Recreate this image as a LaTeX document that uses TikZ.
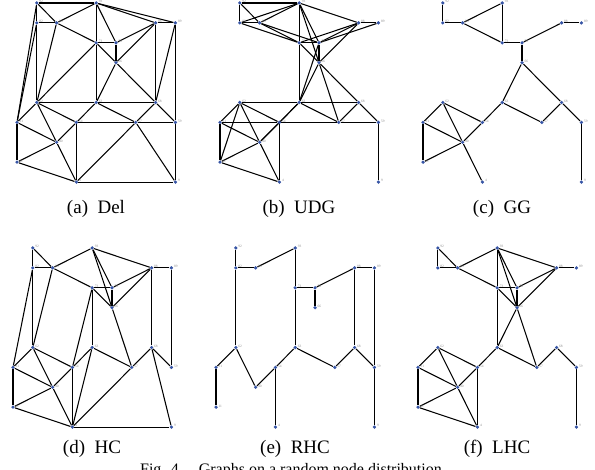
\documentclass[tikz,border=0pt]{standalone}
\usepackage{fontspec}
\setmainfont{Liberation Serif}
\usetikzlibrary{backgrounds}
\definecolor{nodeblue}{RGB}{55,85,165}

% sensor positions on a grid: id/column/row
\newcommand{\sensors}[3]{%
  \foreach \id/\c/\r in {92/1/0, 93/4/0, 82/1/1, 83/2/1, 73/4/2, 76/5/2, 66/5/3,
      88/7/1, 89/8/1, 62/1/5, 63/4/5, 68/7/5, 31/0/6, 54/3/6, 57/6/6, 59/8/6,
      40/2/7, 11/0/8, 4/3/9, 9/8/9} {
    \node[dot, label={[lbl]east:\id}] (#1\id) at ({#2+19.8*\c}, {#3+19.9*\r}) {};
  }}
\newcommand{\links}[2]{%
  \begin{scope}[on background layer]
    \foreach \u/\v in {#2} \draw[edge] (#1\u) -- (#1\v);
  \end{scope}}

\begin{document}
\begin{tikzpicture}[x=1pt, y=-1pt,
    dot/.style={circle, fill=nodeblue, inner sep=0pt, minimum size=3.6pt},
    lbl/.style={font=\fontsize{3.5}{4}\selectfont, text=black!45, inner sep=0.4pt, yshift=1.3pt},
    edge/.style={draw=black, line width=1.05pt},
    subcap/.style={font=\fontsize{19}{22}\selectfont}
]
    \useasboundingbox (0,0) rectangle (595,470);

    % --- Sensors of the six panels ---
    \sensors{a}{17}{3}
    \sensors{b}{220}{3}
    \sensors{c}{423}{3}
    \sensors{d}{13}{248}
    \sensors{e}{216}{248}
    \sensors{f}{418}{248}

    % --- (a) Del ---
    \links{a}{92/93, 92/82, 92/83, 92/31, 82/83, 82/31, 82/62, 83/93, 83/73, 83/62,
      93/73, 93/76, 93/88, 93/89, 73/76, 73/66, 73/62, 73/63, 76/66, 76/88, 66/88,
      66/68, 66/63, 88/89, 88/68, 89/68, 89/59, 62/63, 63/68, 62/31, 62/54, 62/40,
      63/54, 63/57, 68/57, 68/59, 54/57, 57/59, 31/11, 31/40, 11/40, 11/4, 40/54,
      40/4, 54/4, 57/4, 57/9, 59/9, 4/9}

    % --- (b) UDG ---
    \links{b}{92/93, 92/82, 92/83, 93/82, 93/83, 93/73, 93/76, 93/66, 93/88, 82/83,
      82/73, 83/73, 83/76, 73/76, 73/66, 73/88, 73/63, 76/66, 76/88, 76/89, 76/63,
      66/88, 66/63, 66/68, 66/57, 88/89, 62/63, 62/31, 62/54, 62/40, 62/11, 63/68,
      63/54, 63/57, 63/40, 68/57, 68/59, 31/54, 31/40, 31/11, 54/57, 54/40, 54/4,
      57/59, 59/9, 40/11, 40/4, 11/4}

    % --- (c) GG ---
    \links{c}{92/82, 82/83, 83/93, 83/73, 93/73, 73/76, 76/88, 88/89, 76/66, 66/63,
      66/68, 68/59, 63/54, 54/40, 63/57, 57/68, 62/54, 62/31, 62/40, 40/4, 31/40,
      31/11, 11/40, 59/9}

    % --- (d) HC ---
    \links{d}{92/82, 92/83, 82/83, 83/93, 83/73, 93/76, 93/66, 93/88, 73/76, 76/66,
      73/66, 76/88, 66/88, 88/89, 88/68, 89/59, 68/59, 68/57, 57/4, 68/9, 4/9, 66/57,
      63/57, 63/54, 63/4, 73/63, 73/54, 54/4, 54/62, 54/40, 62/82, 62/83, 82/31,
      62/31, 62/40, 40/4, 31/40, 31/11, 11/40, 11/4}

    % --- (e) RHC ---
    \links{e}{92/82, 82/83, 83/93, 93/73, 73/63, 73/76, 76/66, 76/88, 88/89, 88/68,
      89/59, 59/9, 68/59, 68/57, 57/63, 63/54, 54/4, 54/40, 40/62, 62/82, 62/31, 31/11}

    % --- (f) LHC ---
    \links{f}{92/82, 92/83, 82/83, 83/93, 83/73, 93/73, 73/63, 93/76, 93/66, 93/88,
      73/76, 73/66, 76/66, 76/88, 66/88, 88/89, 66/63, 66/57, 63/57, 57/68, 68/59,
      59/9, 63/54, 54/40, 62/54, 62/31, 62/40, 40/4, 31/40, 31/11, 11/40, 11/4, 54/4}

    % --- Captions ---
    \node[subcap] (capa) at (96,209) {(a)\enspace Del};
    \node[subcap] (capb) at (299,209) {(b)\enspace UDG};
    \node[subcap] (capc) at (502,209) {(c)\enspace GG};
    \node[subcap] (capd) at (92,449) {(d)\enspace HC};
    \node[subcap] (cape) at (295,449) {(e)\enspace RHC};
    \node[subcap] (capf) at (497,449) {(f)\enspace LHC};
    \node[font=\fontsize{16}{18}\selectfont, anchor=north, inner sep=0pt] (figcap)
      at (291,463.5) {Fig. 4.\quad Graphs on a random node distribution};

\end{tikzpicture}
\end{document}
